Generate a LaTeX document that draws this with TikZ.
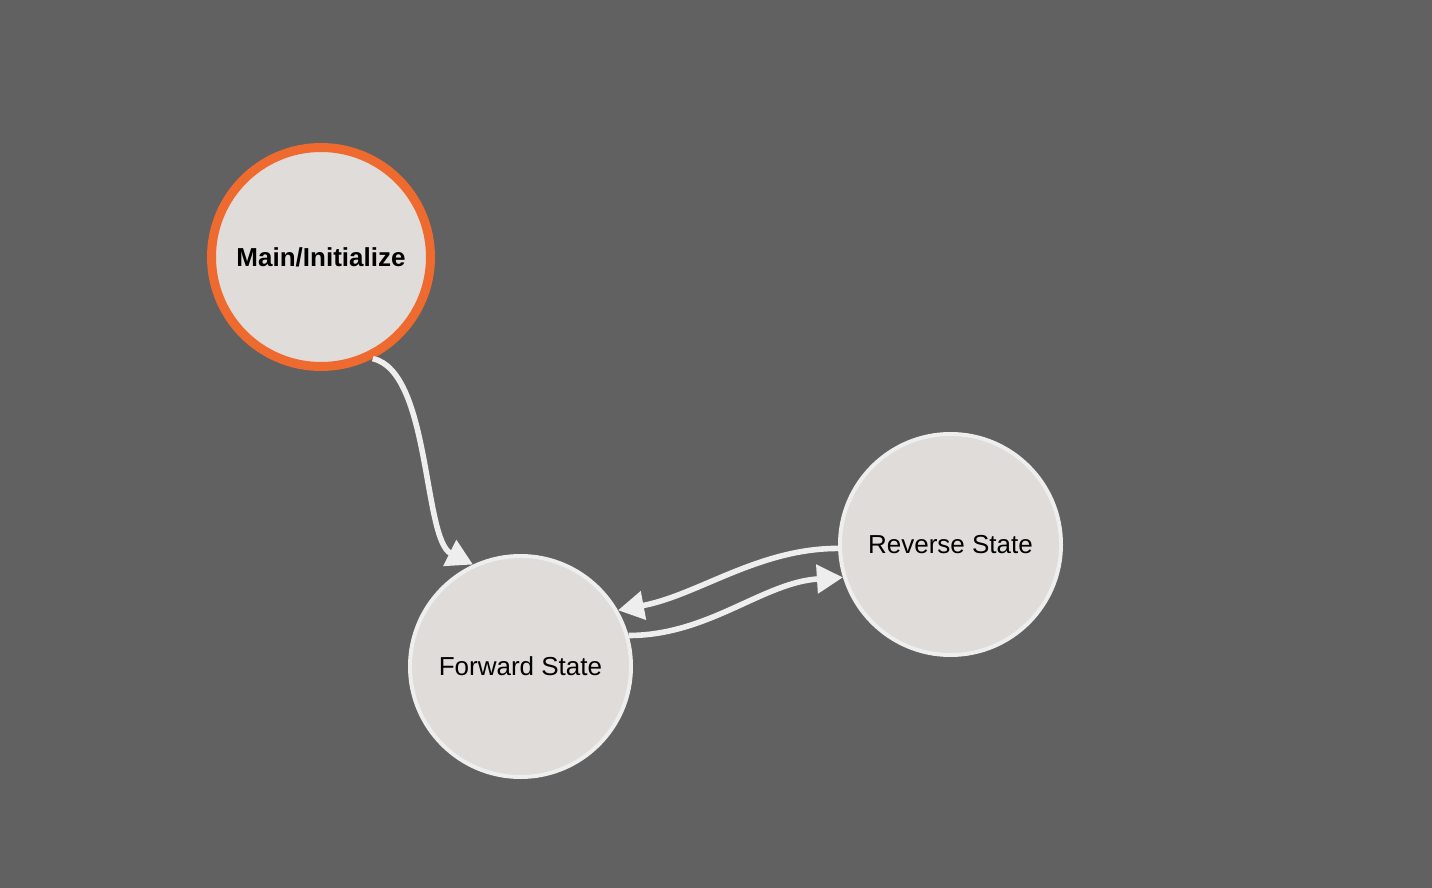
\documentclass[tikz,border=0pt]{standalone}
\usepackage{fontspec}
\setmainfont{Liberation Sans}
\usetikzlibrary{arrows.meta}
\definecolor{bggray}{HTML}{616161}
\definecolor{statefill}{HTML}{DFDCD9}
\definecolor{stateline}{HTML}{EEEEEE}
\definecolor{initorange}{HTML}{EE6A2E}
\tikzset{
  state/.style={circle,fill=statefill,draw=stateline,line width=2pt,
    minimum size=110.5pt,inner sep=0pt,font=\fontsize{13}{15}\selectfont},
  initstate/.style={state,draw=initorange,line width=4.5pt,minimum size=109.5pt,
    font=\fontsize{13}{15}\selectfont\bfseries},
  trans/.style={draw=stateline,line width=2.8pt,
    -{Triangle[length=13pt,width=14pt]}}
}
\begin{document}
\begin{tikzpicture}
  [x=0.5pt,y=-0.5pt]
  \fill[bggray] (0,0) rectangle (1432,888);
  \useasboundingbox (0,0) rectangle (1432,888);

  \node[initstate] (Main) at (321,257) {Main/Initialize};
  \node[state] (Forward) at (520.5,666.5) {Forward State};
  \node[state] (Reverse) at (950.5,544.5) {Reverse State};

  \draw[trans] (Main.-63) .. controls +(58,13) and +(-50,-25) .. (Forward.115);
  \draw[trans] (Forward.16) .. controls +(80,0) and +(-80,5) .. (Reverse.197);
  \draw[trans] (Reverse.182) .. controls +(-80,0) and +(80,-15) .. (Forward.30);
\end{tikzpicture}
\end{document}
